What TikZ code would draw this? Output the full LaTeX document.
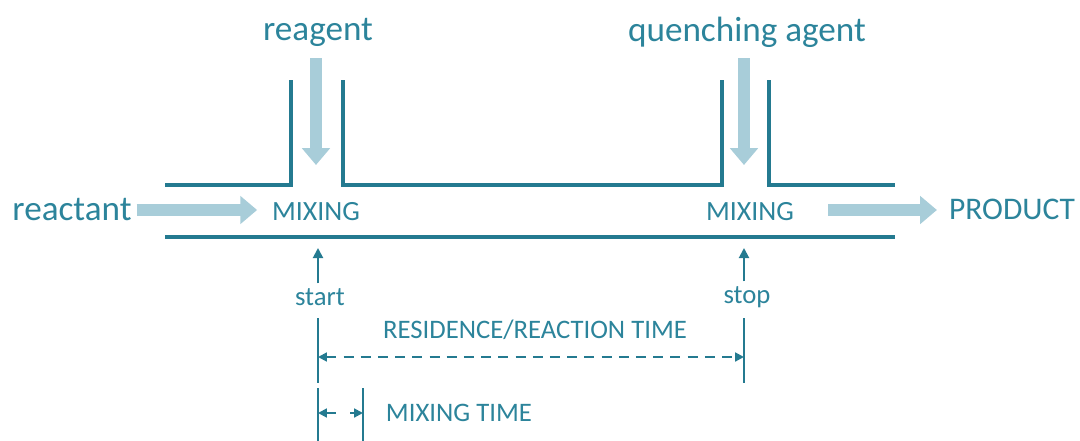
\documentclass[tikz,border=0pt]{standalone}
\usepackage{fontspec}
\setmainfont{Carlito}
\usepackage{tikz}
\usetikzlibrary{positioning, arrows.meta}
\definecolor{pipe}{RGB}{36,122,144}
\definecolor{teal txt}{RGB}{44,132,155}
\definecolor{flowc}{RGB}{168,205,217}

\begin{document}
\begin{tikzpicture}[x=0.025cm, y=-0.025cm,
mylabel/.style={text=teal txt,font=\fontsize{25}{30}\selectfont},
mixnode/.style={text=teal txt,font=\fontsize{19.8}{24}\selectfont},
prodnode/.style={text=teal txt,font=\fontsize{22.4}{27}\selectfont},
smallnode/.style={text=teal txt,font=\fontsize{19}{23}\selectfont},
wall/.style={draw=pipe,line width=3pt},
flow/.style={draw=flowc,line width=0.3cm,-{Triangle[length=0.42cm,width=0.68cm]}},
marker/.style={draw=pipe,line width=1.4pt},
pointer/.style={marker,-{Triangle[length=0.25cm,width=0.25cm]}},
dimline/.style={marker,dash pattern=on 0.25cm off 0.18cm,{Triangle[length=0.22cm,width=0.22cm]}-{Triangle[length=0.22cm,width=0.22cm]}}
]
\useasboundingbox (0,0) rectangle (1080,441);

% labels
\node[mylabel] (reactant) at (72,210) {reactant};
\node[mylabel] (reagent) at (318,32) {reagent};
\node[mylabel] (quench) at (747,32) {quenching agent};
\node[mixnode] (mixA) at (316,212) {MIXING};
\node[mixnode] (mixB) at (750,212) {MIXING};
\node[prodnode] (product) at (1012,209) {PRODUCT};
\node[smallnode] (start) at (320,297) {start};
\node[smallnode] (stop) at (747,297) {stop};
\node[smallnode] (restime) at (535,330) {RESIDENCE/REACTION TIME};
\node[smallnode,anchor=west] (mixtime) at (381,413) {MIXING TIME};

% pipe walls
\draw[wall] (165,185) -- (291,185) -- (291,80);
\draw[wall] (343,80) -- (343,185) -- (722,185) -- (722,80);
\draw[wall] (769,80) -- (769,185) -- (895,185);
\draw[wall] (165,237) -- (895,237);

% inlets and outlet
\coordinate (inA) at (316,58);
\coordinate (inB) at (744,58);
\coordinate (outB) at (828,210);
\draw[flow,shorten >=0.25cm] (reactant.east) -- (reactant.east -| mixA.west);
\draw[flow] (inA) -- ++(0,107);
\draw[flow] (inB) -- ++(0,107);
\draw[flow,shorten >=0.18cm] (outB) -- (outB -| product.west);

% time markers
\coordinate (tA) at (318,248);
\coordinate (tB) at (744,248);
\draw[pointer] (start.north -| tA) -- (tA);
\draw[pointer] (stop.north -| tB) -- (tB);
\draw[marker] (318,318) -- (318,383);
\draw[marker] (744,318) -- (744,383);
\draw[marker] (318,388) -- (318,441);
\draw[marker] (363,388) -- (363,441);
\coordinate (rA) at (318,357);
\coordinate (rB) at (744,357);
\draw[dimline] (rA) -- (rB);
\coordinate (mA) at (318,413);
\coordinate (mB) at (363,413);
\draw[dimline,dash pattern=on 0.25cm off 0.35cm] (mA) -- (mB);
\end{tikzpicture}
\end{document}
